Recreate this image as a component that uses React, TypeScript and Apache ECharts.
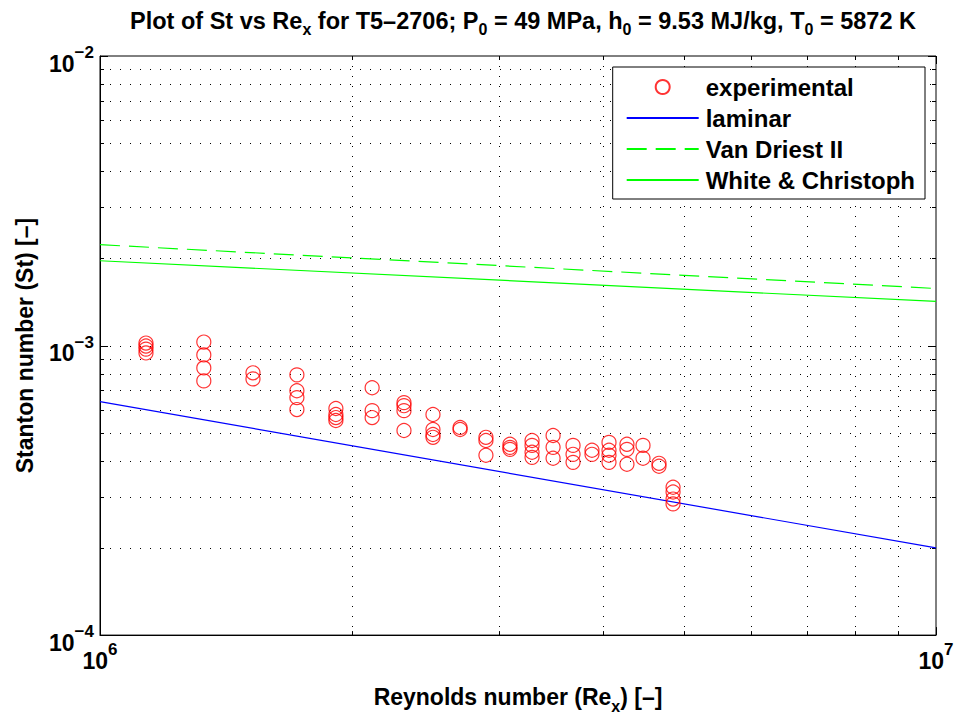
import React, { useEffect, useRef } from "react";
import * as echarts from "echarts";

// ---- axis extents & ticks ----
const X_MIN = 1e6;
const X_MAX = 1e7;
const Y_MIN = 1e-4;
const Y_MAX = 1e-2;
const xTicks = [1e6, 2e6, 3e6, 4e6, 5e6, 6e6, 7e6, 8e6, 9e6, 1e7];
const yTicks = [
  1e-4, 2e-4, 3e-4, 4e-4, 5e-4, 6e-4, 7e-4, 8e-4, 9e-4,
  1e-3, 2e-3, 3e-3, 4e-3, 5e-3, 6e-3, 7e-3, 8e-3, 9e-3, 1e-2,
];

// ---- experimental data: Reynolds number columns and Stanton values per column ----
const expRe = [
  1.135e6, 1.331e6, 1.524e6, 1.72e6, 1.915e6, 2.116e6, 2.31e6, 2.502e6, 2.696e6, 2.895e6,
  3.093e6, 3.287e6, 3.483e6, 3.68e6, 3.877e6, 4.063e6, 4.269e6, 4.462e6, 4.663e6, 4.847e6,
];
const expSt = [
  [1.02e-3, 9.96e-4, 9.72e-4, 9.43e-4],
  [1.028e-3, 9.28e-4, 8.37e-4, 7.55e-4],
  [8.05e-4, 7.67e-4],
  [7.92e-4, 6.98e-4, 6.61e-4, 6.01e-4],
  [6.06e-4, 5.78e-4, 5.64e-4, 5.51e-4],
  [7.15e-4, 5.96e-4, 5.64e-4],
  [6.35e-4, 6.2e-4, 5.96e-4, 5.09e-4],
  [5.78e-4, 5.13e-4, 4.93e-4, 4.82e-4],
  [5.21e-4, 5.13e-4],
  [4.82e-4, 4.7e-4, 4.18e-4],
  [4.56e-4, 4.45e-4, 4.38e-4],
  [4.7e-4, 4.52e-4, 4.28e-4, 4.11e-4],
  [4.89e-4, 4.45e-4, 4.08e-4],
  [4.52e-4, 4.21e-4, 3.95e-4],
  [4.35e-4, 4.21e-4],
  [4.63e-4, 4.35e-4, 4.18e-4, 3.95e-4],
  [4.56e-4, 4.38e-4, 3.89e-4],
  [4.52e-4, 4.08e-4],
  [3.92e-4, 3.83e-4],
  [3.24e-4, 3.12e-4, 2.95e-4, 2.84e-4],
];

// ---- correlation lines (end points) ----
const lineRe = [1e6, 1e7];
const laminarSt = [6.4e-4, 2.0e-4];
const vanDriestSt = [2.23e-3, 1.574e-3];
const whiteSt = [1.963e-3, 1.42e-3];

const seriesNames = ["experimental", "laminar", "Van Driest II", "White & Christoph"];

const FONT = "'Liberation Sans', Arial, Helvetica, sans-serif";

function isMajor(v: number) {
  const l = Math.log10(v);
  return Math.abs(l - Math.round(l)) < 1e-9;
}

export default function App() {
  const ref = useRef<HTMLDivElement>(null);

  useEffect(() => {
    document.body.style.margin = "0";
    if (!ref.current) return;
    const chart = echarts.init(ref.current, null, { renderer: "svg" });

    const expData: number[][] = [];
    expRe.forEach((re, i) => expSt[i].forEach((st) => expData.push([re, st])));

    const dotted = { stroke: "#000", lineWidth: 1, lineDash: [1, 9] };
    const solid = { stroke: "#000", lineWidth: 1 };

    const renderX = (params: any, api: any) => {
      const v = api.value(0);
      const top = api.coord([v, Y_MAX]);
      const bot = api.coord([v, Y_MIN]);
      const x = Math.round(top[0]) + 0.5;
      const len = isMajor(v) ? 8 : 4;
      const children: any[] = [];
      if (v > X_MIN * 1.0001 && v < X_MAX * 0.9999) {
        children.push({ type: "line", shape: { x1: x, y1: top[1], x2: x, y2: bot[1] }, style: dotted, silent: true });
      }
      children.push({ type: "line", shape: { x1: x, y1: bot[1], x2: x, y2: bot[1] - len }, style: solid, silent: true });
      children.push({ type: "line", shape: { x1: x, y1: top[1], x2: x, y2: top[1] + len }, style: solid, silent: true });
      return { type: "group", children };
    };

    const renderY = (params: any, api: any) => {
      const v = api.value(1);
      const left = api.coord([X_MIN, v]);
      const right = api.coord([X_MAX, v]);
      const y = Math.round(left[1]) + 0.5;
      const len = isMajor(v) ? 8 : 4;
      const children: any[] = [];
      if (v > Y_MIN * 1.0001 && v < Y_MAX * 0.9999) {
        children.push({ type: "line", shape: { x1: left[0], y1: y, x2: right[0], y2: y }, style: dotted, silent: true });
      }
      children.push({ type: "line", shape: { x1: left[0], y1: y, x2: left[0] + len, y2: y }, style: solid, silent: true });
      children.push({ type: "line", shape: { x1: right[0], y1: y, x2: right[0] - len, y2: y }, style: solid, silent: true });
      return { type: "group", children };
    };

    const supRich = {
      b: { fontSize: 23, fontWeight: "bold", fontFamily: FONT, color: "#000", lineHeight: 24, padding: [8, 0, 8, 0], verticalAlign: "top" },
      s: { fontSize: 17, fontWeight: "bold", fontFamily: FONT, color: "#000", lineHeight: 18, verticalAlign: "top" },
    };
    const subRich = (size: number, subSize: number, lh: number, drop: number) => ({
      n: { fontSize: size, fontWeight: "bold", fontFamily: FONT, color: "#000", lineHeight: lh, verticalAlign: "top" },
      s: { fontSize: subSize, fontWeight: "bold", fontFamily: FONT, color: "#000", lineHeight: subSize + 1, padding: [drop, 0, 0, 0], verticalAlign: "top" },
    });

    const expLabel = (v: number) => {
      const e = Math.round(Math.log10(v));
      const es = e < 0 ? "\u2212" + Math.abs(e) : String(e);
      return `{b|10}{s|${es}}`;
    };

    const hidden = { opacity: 0 };

    chart.setOption({
      animation: false,
      backgroundColor: "#fff",
      title: {
        left: 518,
        top: 4,
        textAlign: "center",
        text:
          "{n|Plot of St vs Re}{s|x}{n| for T5\u20132706; P}{s|0}{n| = 49 MPa, h}{s|0}{n| = 9.53 MJ/kg, T}{s|0}{n| = 5872 K}",
        textStyle: { rich: subRich(23.5, 16, 26, 12) },
      },
      grid: { left: 100, right: 22, top: 56, bottom: 80, show: true, borderColor: "#000", borderWidth: 1, backgroundColor: "#fff" },
      legend: {
        data: [
          { name: seriesNames[0] },
          { name: seriesNames[1], itemStyle: hidden },
          { name: seriesNames[2], itemStyle: hidden },
          { name: seriesNames[3], itemStyle: hidden },
        ],
        orient: "vertical",
        right: 33,
        top: 67,
        padding: [8, 10, 7, 13],
        itemWidth: 72,
        itemHeight: 14,
        itemGap: 7,
        backgroundColor: "#fff",
        borderColor: "#000",
        borderWidth: 1,
        borderRadius: 0,
        textStyle: { fontSize: 24, fontWeight: "bold", fontFamily: FONT, color: "#000", lineHeight: 23, padding: [0, 0, 0, 2] },
      },
      xAxis: {
        type: "log",
        logBase: 10,
        min: X_MIN,
        max: X_MAX,
        axisLine: { show: true, lineStyle: { color: "#000", width: 1 } },
        axisTick: { show: false },
        splitLine: { show: false },
        axisLabel: { formatter: expLabel, margin: 6, rich: supRich },
        name: "{n|Reynolds number (Re}{s|x}{n|) [\u2013]}",
        nameLocation: "middle",
        nameGap: 38,
        nameTextStyle: { rich: subRich(23, 16, 26, 13) },
      },
      yAxis: {
        type: "log",
        logBase: 10,
        min: Y_MIN,
        max: Y_MAX,
        axisLine: { show: true, lineStyle: { color: "#000", width: 1 } },
        axisTick: { show: false },
        splitLine: { show: false },
        axisLabel: { formatter: expLabel, margin: 6, rich: supRich },
        name: "Stanton number (St) [\u2013]",
        nameLocation: "middle",
        nameGap: 60,
        nameTextStyle: { fontSize: 23, fontWeight: "bold", fontFamily: FONT, color: "#000", lineHeight: 26 },
      },
      series: [
        {
          type: "custom",
          name: "xgrid",
          silent: true,
          z: 1,
          renderItem: renderX,
          encode: { x: 0, y: 1 },
          data: xTicks.map((v) => [v, Y_MIN]),
        },
        {
          type: "custom",
          name: "ygrid",
          silent: true,
          z: 1,
          renderItem: renderY,
          encode: { x: 0, y: 1 },
          data: yTicks.map((v) => [X_MIN, v]),
        },
        {
          type: "scatter",
          name: seriesNames[0],
          symbol: "circle",
          symbolSize: 14,
          z: 5,
          itemStyle: { color: "rgba(255,255,255,0)", borderColor: "#ff0000", borderWidth: 1.2 },
          data: expData,
        },
        {
          type: "line",
          name: seriesNames[1],
          symbol: "none",
          z: 4,
          lineStyle: { color: "#0000ff", width: 1.2 },
          itemStyle: { color: "#0000ff" },
          data: lineRe.map((r, i) => [r, laminarSt[i]]),
        },
        {
          type: "line",
          name: seriesNames[2],
          symbol: "none",
          z: 4,
          lineStyle: { color: "#00ff00", width: 1.2, type: [20, 9] },
          itemStyle: { color: "#00ff00" },
          data: lineRe.map((r, i) => [r, vanDriestSt[i]]),
        },
        {
          type: "line",
          name: seriesNames[3],
          symbol: "none",
          z: 4,
          lineStyle: { color: "#00ff00", width: 1.2 },
          itemStyle: { color: "#00ff00" },
          data: lineRe.map((r, i) => [r, whiteSt[i]]),
        },
      ],
    });

    return () => chart.dispose();
  }, []);

  return <div ref={ref} style={{ width: 958, height: 719 }} />;
}
